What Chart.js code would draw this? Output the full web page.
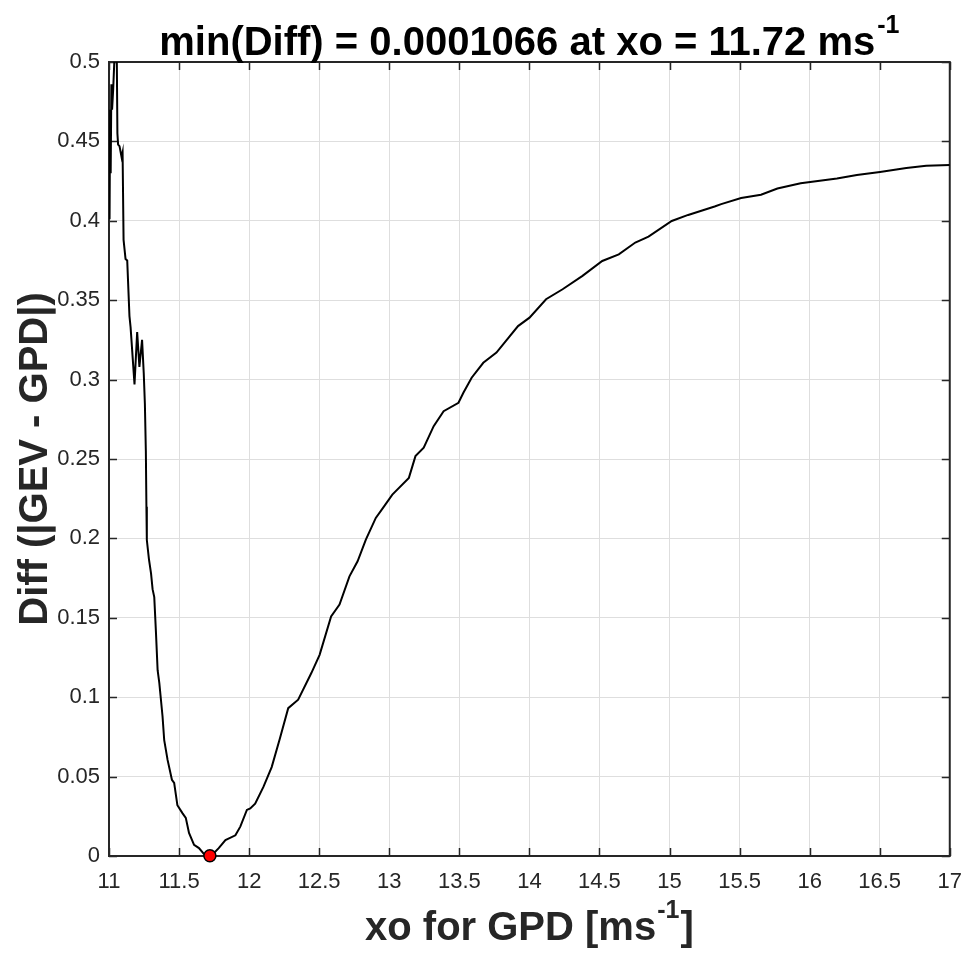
<!DOCTYPE html>
<html><head><meta charset="utf-8">
<script src="https://cdn.jsdelivr.net/npm/chart.js@4.4.1/dist/chart.umd.min.js"></script>
<style>html,body{margin:0;padding:0;background:#fff;}#wrap{width:975px;height:954px;position:relative;}</style>
</head><body><div id="wrap"><canvas id="c" width="975" height="954"></canvas></div>
<script>
const xValues = [11.000,11.004,11.008,11.012,11.017,11.022,11.030,11.040,11.048,11.055,11.060,11.065,11.075,11.090,11.097,11.104,11.111,11.118,11.130,11.146,11.154,11.182,11.201,11.217,11.236,11.248,11.256,11.263,11.267,11.270,11.285,11.300,11.311,11.323,11.335,11.347,11.359,11.382,11.394,11.418,11.449,11.465,11.488,11.524,11.548,11.571,11.607,11.642,11.677,11.717,11.748,11.783,11.831,11.902,11.937,11.984,12.008,12.043,12.102,12.161,12.220,12.279,12.350,12.444,12.503,12.585,12.645,12.716,12.774,12.833,12.904,12.963,13.022,13.140,13.187,13.246,13.317,13.388,13.494,13.529,13.588,13.671,13.765,13.919,14.001,14.119,14.237,14.379,14.520,14.638,14.756,14.850,15.016,15.133,15.322,15.369,15.511,15.653,15.770,15.936,16.195,16.337,16.502,16.690,16.832,17.000];
const diffValues = [0.450,0.401,0.470,0.430,0.486,0.470,0.483,0.505,0.525,0.510,0.455,0.448,0.447,0.440,0.443,0.388,0.382,0.376,0.375,0.340,0.333,0.297,0.330,0.308,0.325,0.304,0.285,0.255,0.220,0.199,0.187,0.178,0.168,0.163,0.141,0.117,0.109,0.088,0.073,0.0605,0.048,0.046,0.032,0.027,0.024,0.0145,0.007,0.005,0.0013,0.0001066,0.0017,0.005,0.010,0.013,0.0185,0.029,0.030,0.033,0.0435,0.056,0.0742,0.0931,0.0984,0.1152,0.1267,0.1509,0.1583,0.1761,0.1856,0.1992,0.2129,0.2202,0.2276,0.2381,0.2518,0.2571,0.2707,0.2801,0.2854,0.2917,0.3012,0.3106,0.3170,0.3337,0.3390,0.3506,0.3569,0.3653,0.3747,0.3789,0.3863,0.3900,0.3999,0.4037,0.4090,0.4105,0.4143,0.4164,0.4203,0.4237,0.4266,0.4289,0.4308,0.4332,0.4346,0.4352];
const minPointX = [11.72];
const minPointY = [0.0001066];
const xTickValues = [11,11.5,12,12.5,13,13.5,14,14.5,15,15.5,16,16.5,17];
const xTickLabels = ['11','11.5','12','12.5','13','13.5','14','14.5','15','15.5','16','16.5','17'];
const yTickValues = [0,0.05,0.1,0.15,0.2,0.25,0.3,0.35,0.4,0.45,0.5];
const yTickLabels = ['0','0.05','0.1','0.15','0.2','0.25','0.3','0.35','0.4','0.45','0.5'];
const titleMain = 'min(Diff) = 0.0001066 at xo = 11.72 ms';
const titleSup = '-1';
const xLabelMain = 'xo for GPD [ms';
const xLabelSup = '-1';
const xLabelEnd = ']';
const yLabel = 'Diff (|GEV - GPD|)';

const FONT = '"Liberation Sans", Arial, Helvetica, sans-serif';
const AXC = '#262626';

const boxPlugin = {
  id: 'box',
  beforeDatasetsDraw(chart) {
    const ctx = chart.ctx, a = chart.chartArea;
    const xs = chart.scales.x, ys = chart.scales.y;
    ctx.save();
    ctx.strokeStyle = AXC;
    ctx.lineWidth = 1.5;
    const TL = 8;
    ctx.beginPath();
    xTickValues.forEach(v => {
      const px = Math.round(xs.getPixelForValue(v)) + 0.5;
      ctx.moveTo(px, a.bottom); ctx.lineTo(px, a.bottom - TL);
      ctx.moveTo(px, a.top); ctx.lineTo(px, a.top + TL);
    });
    yTickValues.forEach(v => {
      const py = Math.round(ys.getPixelForValue(v)) + 0.5;
      ctx.moveTo(a.left, py); ctx.lineTo(a.left + TL, py);
      ctx.moveTo(a.right, py); ctx.lineTo(a.right - TL, py);
    });
    ctx.stroke();
    ctx.lineWidth = 2;
    ctx.strokeRect(a.left, a.top, a.right - a.left, a.bottom - a.top);
    ctx.restore();
  },
  afterDraw(chart) {
    const ctx = chart.ctx, a = chart.chartArea;
    const cx = (a.left + a.right) / 2, cy = (a.top + a.bottom) / 2;
    ctx.save();
    ctx.textBaseline = 'alphabetic';
    ctx.textAlign = 'left';
    // title
    const big = 'bold 40px ' + FONT, small = 'bold 25px ' + FONT;
    ctx.fillStyle = '#000';
    ctx.font = big; const w1 = ctx.measureText(titleMain).width;
    ctx.font = small; const w2 = ctx.measureText(titleSup).width;
    let x0 = cx - (w1 + w2 + 2) / 2;
    ctx.font = big; ctx.fillText(titleMain, x0, 55);
    ctx.font = small; ctx.fillText(titleSup, x0 + w1 + 2, 33);
    // x label
    ctx.fillStyle = AXC;
    ctx.font = big; const a1 = ctx.measureText(xLabelMain).width; const a3 = ctx.measureText(xLabelEnd).width;
    ctx.font = small; const a2 = ctx.measureText(xLabelSup).width;
    x0 = cx - (a1 + a2 + a3 + 2) / 2;
    ctx.font = big; ctx.fillText(xLabelMain, x0, 940);
    ctx.font = small; ctx.fillText(xLabelSup, x0 + a1 + 1, 918);
    ctx.font = big; ctx.fillText(xLabelEnd, x0 + a1 + a2 + 2, 940);
    // y label
    ctx.translate(47, cy);
    ctx.rotate(-Math.PI / 2);
    ctx.textAlign = 'center';
    ctx.font = big;
    ctx.fillText(yLabel, 0, 0);
    ctx.restore();
  }
};

new Chart(document.getElementById('c'), {
  type: 'scatter',
  data: {
    datasets: [
      {
        data: minPointX.map((x, i) => ({x: x, y: minPointY[i]})),
        pointRadius: 6, pointBackgroundColor: '#ff0000', pointBorderColor: '#000',
        pointBorderWidth: 1.5, showLine: false, clip: false
      },
      {
        data: xValues.map((x, i) => ({x: x, y: diffValues[i]})),
        showLine: true, borderColor: '#000', borderWidth: 2, pointRadius: 0,
        tension: 0, clip: 0
      }
    ]
  },
  options: {
    responsive: false, animation: false, devicePixelRatio: 1,
    layout: {padding: {top: 62, right: 18, left: 0, bottom: 0}},
    plugins: {legend: {display: false}, title: {display: false}, tooltip: {enabled: false}},
    scales: {
      x: {
        type: 'linear', min: 11, max: 17,
        afterBuildTicks: s => { s.ticks = xTickValues.map(v => ({value: v})); },
        afterFit: s => { s.height = 98; },
        ticks: {callback: (v, i) => xTickLabels[i], autoSkip: false, maxRotation: 0,
                font: {family: FONT, size: 22}, color: AXC, padding: 13},
        grid: {color: '#dedede', lineWidth: 1, drawTicks: false},
        border: {display: false}
      },
      y: {
        type: 'linear', min: 0, max: 0.5,
        afterBuildTicks: s => { s.ticks = yTickValues.map(v => ({value: v})); },
        afterFit: s => { s.width = 109; },
        ticks: {callback: (v, i) => yTickLabels[i], autoSkip: false,
                font: {family: FONT, size: 22}, color: AXC, padding: 9},
        grid: {color: '#dedede', lineWidth: 1, drawTicks: false},
        border: {display: false}
      }
    }
  },
  plugins: [boxPlugin]
});
</script></body></html>
